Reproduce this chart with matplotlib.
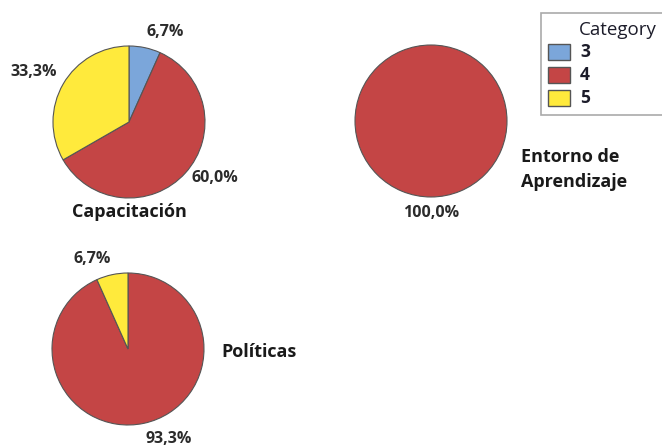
import numpy as np
import matplotlib.pyplot as plt
from matplotlib.patches import Rectangle

plt.rcParams['font.family'] = ['Open Sans', 'DejaVu Sans']

categories = ["3", "4", "5"]
colors = ["#7BA6DA", "#C44545", "#FFEA3C"]

panels = ["Capacitación", "Entorno de\nAprendizaje", "Políticas"]
values = [
    [6.7, 60.0, 33.3],
    [0.0, 100.0, 0.0],
    [0.0, 93.3, 6.7],
]

W, H = 662, 446
R = 76  # pie radius in pixels
centers = [(129, 122), (431, 121), (128, 349)]
title_pos = [(0.0, -1.06, "center", "top"),
             (1.19, -0.64, "left", "center"),
             (1.23, -0.04, "left", "center")]


def fx(px):
    return px / W


def fy(py):
    return 1 - py / H


fig = plt.figure(figsize=(W / 100, H / 100), dpi=100)

for name, vals, (cx, cy), (tx, ty, ha, va) in zip(panels, values, centers, title_pos):
    ax = fig.add_axes([(cx - R) / W, (H - cy - R) / H, 2 * R / W, 2 * R / H])
    keep = [i for i, v in enumerate(vals) if v > 0]
    wedges, texts = ax.pie(
        [vals[i] for i in keep],
        colors=[colors[i] for i in keep],
        startangle=90, counterclock=False, radius=1,
        wedgeprops=dict(edgecolor="#555555", linewidth=0.8),
    )
    # percent labels just outside the rim, aligned away from the pie
    for w, i in zip(wedges, keep):
        ang = np.deg2rad((w.theta1 + w.theta2) / 2)
        c, s = np.cos(ang), np.sin(ang)
        lha = "left" if c > 0.1 else ("right" if c < -0.1 else "center")
        lva = "bottom" if s > 0.3 else ("top" if s < -0.7 else "center")
        ax.text(1.1 * c, 1.1 * s, f"{vals[i]:.1f}%".replace(".", ","),
                ha=lha, va=lva, fontsize=11.5, color="#2b2b2b",
                fontweight="bold", clip_on=False)
    ax.set_xlim(-1, 1)
    ax.set_ylim(-1, 1)
    ax.text(tx, ty, name, ha=ha, va=va, fontsize=13, fontweight="bold",
            color="#1a1a1a", linespacing=1.45, clip_on=False)

# legend box, drawn in figure pixels
fig.patches.append(Rectangle((fx(541), fy(115)), fx(680) - fx(541), fy(13) - fy(115),
                             transform=fig.transFigure, facecolor="white",
                             edgecolor="#aaaaaa", linewidth=1.2))
fig.text(fx(579), fy(30), "Category", ha="left", va="center",
         fontsize=13.5, color="#1c1c2a")
for i, (cat, c) in enumerate(zip(categories, colors)):
    yc = 52 + i * 23
    fig.patches.append(Rectangle((fx(548), fy(yc + 8)), fx(22), fy(0) - fy(16),
                                 transform=fig.transFigure, facecolor=c,
                                 edgecolor="#555555", linewidth=1))
    fig.text(fx(580), fy(yc), cat, ha="left", va="center",
             fontsize=12.5, fontweight="bold", color="#1c1c2a")

fig.savefig("out.png", dpi=100, facecolor="white")
